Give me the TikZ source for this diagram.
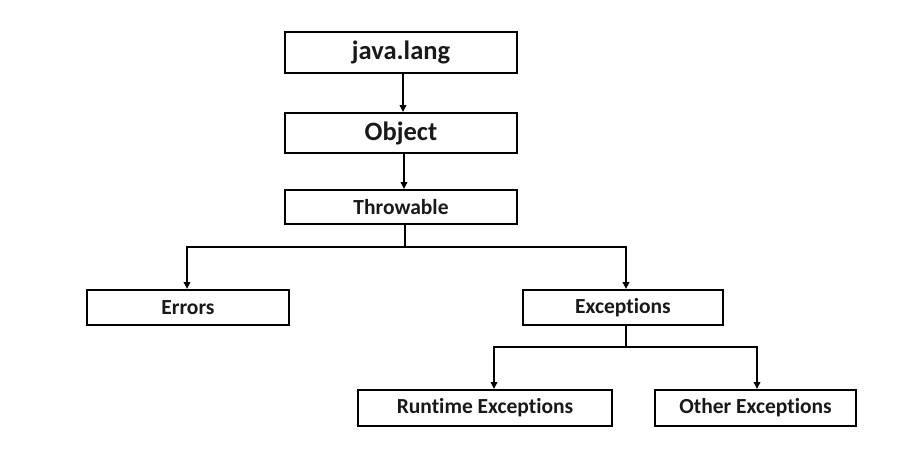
\documentclass[tikz,border=0pt]{standalone}
\usepackage{fontspec}
\setmainfont[RawFeature=-liga]{Carlito}
\usetikzlibrary{arrows.meta}
\begin{document}
\begin{tikzpicture}[x=1pt,y=-1pt,
  box/.style={draw=black,line width=2pt,fill=white,rectangle,inner sep=0pt,font=\bfseries\fontsize{21.5}{24}\selectfont,text=black!90},
  bigbox/.style={box,font=\bfseries\fontsize{26.5}{30}\selectfont},
  arr/.style={line width=2pt,draw=black,-{Triangle[length=7pt,width=6.5pt]}}]
\useasboundingbox[fill=white] (0,0) rectangle (902,464);
\node[bigbox,minimum width=232pt,minimum height=41pt] (java) at (401,52.5) {java.lang};
\node[bigbox,minimum width=232pt,minimum height=40pt] (obj) at (401,133) {Object};
\node[box,minimum width=232pt,minimum height=34pt] (thr) at (401,207) {Throwable};
\node[box,minimum width=202pt,minimum height=35pt] (err) at (188,307.5) {Errors};
\node[box,minimum width=200pt,minimum height=35pt] (exc) at (623,307.5) {Exceptions};
\node[box,minimum width=254pt,minimum height=36pt] (run) at (485,408) {Runtime Exceptions};
\node[box,minimum width=201pt,minimum height=36pt] (oth) at (755.5,408) {Other Exceptions};
\coordinate (j1) at (0,247);
\coordinate (j2) at (0,347);
\draw[arr] ([xshift=2pt]java.south) -- ([xshift=2pt]obj.north);
\draw[arr] ([xshift=3pt]obj.south) -- ([xshift=3pt]thr.north);
\draw[arr] ([xshift=4pt]thr.south) -- ([xshift=4pt]thr.south |- j1) -| ([xshift=-1pt]err.north);
\draw[arr] ([xshift=4pt]thr.south |- j1) -| ([xshift=3pt]exc.north);
\draw[arr] ([xshift=3pt]exc.south) -- ([xshift=3pt]exc.south |- j2) -| ([xshift=9pt]run.north);
\draw[arr] ([xshift=3pt]exc.south |- j2) -| ([xshift=1.5pt]oth.north);
\end{tikzpicture}
\end{document}
